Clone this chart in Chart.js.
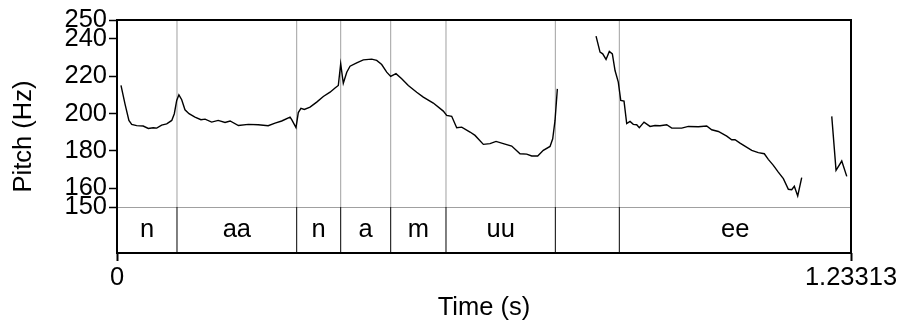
<!DOCTYPE html>
<html>
<head>
<meta charset="utf-8">
<script src="https://cdn.jsdelivr.net/npm/chart.js@4/dist/chart.umd.min.js"></script>
<style>
  html, body { margin: 0; padding: 0; background: #fff; }
  #wrap { width: 900px; height: 324px; }
</style>
</head>
<body>
<div id="wrap"><canvas id="pitchChart" width="900" height="324"></canvas></div>
<script>
// pitch track, null = unvoiced gap
const pitchTimes = [
  0.0067, 0.0134, 0.020, 0.0247, 0.033, 0.044, 0.0526, 0.061, 0.0667, 0.075,
  0.0835, 0.092, 0.0963, 0.1003, 0.104, 0.1087, 0.1142, 0.121, 0.131, 0.141,
  0.148, 0.159, 0.170, 0.1815, 0.190, 0.204, 0.2206, 0.2374, 0.254, 0.2655,
  0.2767, 0.2907, 0.2935, 0.3007, 0.3046, 0.309, 0.3147, 0.3243, 0.3355, 0.3466,
  0.3579, 0.3663, 0.3718, 0.3758, 0.3802, 0.386, 0.3915, 0.4027, 0.4138, 0.4279,
  0.4363, 0.4447, 0.4531, 0.4598, 0.4687, 0.4783, 0.4894, 0.5035, 0.5146, 0.5314,
  0.5482, 0.5539, 0.5623, 0.5707, 0.5791, 0.5931, 0.6015, 0.6155, 0.6267, 0.6368,
  0.649, 0.6631, 0.6771, 0.6883, 0.6967, 0.7068, 0.7162, 0.7275, 0.732, 0.7359,
  0.7398,
  0.77,
  0.8048, 0.8115, 0.816, 0.8216, 0.8271, 0.8322, 0.8367, 0.8422, 0.8463, 0.8518,
  0.8563, 0.8619, 0.8674, 0.8731, 0.8775, 0.8854, 0.8955, 0.9039, 0.9123, 0.9235,
  0.932, 0.9487, 0.9599, 0.9767, 0.9907, 0.9991, 1.0103, 1.0244, 1.0327, 1.0383,
  1.0467, 1.0664, 1.0774, 1.0875, 1.0942, 1.1027, 1.111, 1.1195, 1.1279, 1.1335,
  1.1379, 1.1436, 1.1503,
  1.18,
  1.2008, 1.2080, 1.2176, 1.2260
];
const pitchHz = [
  215, 205.2, 196.3, 194.2, 193.5, 193.3, 192.0, 192.4, 192.2, 193.8,
  194.5, 196.3, 199.9, 207, 210, 207.4, 202, 199.9, 198.1, 196.7,
  197, 195.4, 196.3, 195.2, 196, 193.6, 194.2, 194, 193.5, 194.9,
  196, 198.1, 196.7, 192.5, 200.5, 202.8, 202.2, 203.4, 206.1, 209.1,
  211.4, 213.6, 215, 226.6, 216.2, 222.1, 225.3, 227.1, 228.7, 229.1,
  228.4, 226.2, 222.1, 219.8, 221.3, 218.6, 215, 211.4, 208.8, 205.6,
  201.3, 199, 198.5, 192.4, 192.7, 190.1, 188.3, 183.5, 183.9, 185.1,
  183.9, 182.6, 178.5, 178.3, 177.3, 177.3, 180.3, 182.4, 186.5, 196.3,
  213.2,
  null,
  241.4, 232.8, 231.9, 228.9, 233.2, 231.9, 223, 216.8, 207, 206.6,
  194.6, 195.8, 194.2, 194, 192.4, 195.4, 193.1, 193.6, 193.5, 194,
  192.2, 192.2, 193.1, 192.9, 193.3, 191.3, 190.4, 187.9, 186, 186,
  184.2, 180.3, 179.1, 178.5, 175.5, 172.3, 168.7, 165.2, 159.5, 159.3,
  161.1, 155.9, 165.7,
  null,
  198.5, 169.6, 174.6, 166.4
];

// text grid tier
const tierBounds = [0.1008, 0.3019, 0.3758, 0.4598, 0.5527, 0.7364, 0.8439];
const tierLabels = ['n', 'aa', 'n', 'a', 'm', 'uu', '', 'ee'];

const xMin = 0;
const xMax = 1.23313;
const xTickLabels = ['0', '1.23313'];
const yTicks = [150, 160, 180, 200, 220, 240, 250];
const pitchFloor = 150;
const pitchCeil = 250;
const yMin = 125.43; // bottom of tier strip in Hz units

const FONT = { family: "'Liberation Sans', Arial, sans-serif", size: 25.5 };

function boundLine(lo, hi) {
  let pts = [];
  tierBounds.forEach(b => {
    pts.push({x: b, y: lo}, {x: b, y: hi}, {x: b, y: null});
  });
  return pts;
}

const pitchData = pitchTimes.map((t, i) => ({x: t, y: pitchHz[i]}));

const tierPlugin = {
  id: 'tierText',
  afterDatasetsDraw(chart) {
    const {ctx, chartArea, scales} = chart;
    const edges = [xMin].concat(tierBounds, [xMax]);
    const yc = (scales.y.getPixelForValue(pitchFloor) + scales.y.getPixelForValue(yMin)) / 2;
    ctx.save();
    ctx.fillStyle = '#000';
    ctx.font = FONT.size + 'px ' + FONT.family;
    ctx.textAlign = 'center';
    ctx.textBaseline = 'middle';
    tierLabels.forEach((lab, i) => {
      const xc = (scales.x.getPixelForValue(edges[i]) + scales.x.getPixelForValue(edges[i + 1])) / 2;
      ctx.fillText(lab, xc, yc);
    });
    // frame
    ctx.strokeStyle = '#000';
    ctx.lineWidth = 2;
    ctx.strokeRect(chartArea.left, chartArea.top, chartArea.right - chartArea.left, chartArea.bottom - chartArea.top);
    ctx.restore();
  }
};

new Chart(document.getElementById('pitchChart'), {
  type: 'line',
  data: {
    datasets: [
      {
        data: pitchData,
        borderColor: '#000',
        borderWidth: 1.4,
        pointRadius: 0,
        spanGaps: false,
        tension: 0
      },
      {
        data: boundLine(pitchFloor, pitchCeil),
        borderColor: '#a0a0a0',
        borderWidth: 1,
        pointRadius: 0,
        spanGaps: false
      },
      {
        data: boundLine(yMin, pitchFloor),
        borderColor: '#000',
        borderWidth: 1,
        pointRadius: 0,
        spanGaps: false
      }
    ]
  },
  options: {
    responsive: false,
    animation: false,
    layout: { padding: { top: 20, right: 49, left: 0, bottom: 0 } },
    plugins: { legend: { display: false }, tooltip: { enabled: false } },
    scales: {
      x: {
        type: 'linear',
        min: xMin,
        max: xMax,
        afterBuildTicks: s => { s.ticks = [{value: xMin}, {value: xMax}]; },
        afterFit: s => { s.height = 71; },
        ticks: {
          autoSkip: false,
          maxRotation: 0,
          minRotation: 0,
          padding: 2,
          color: '#000',
          font: FONT,
          callback: (v, i) => xTickLabels[i]
        },
        grid: { drawOnChartArea: false, tickLength: 8, tickColor: '#000', tickWidth: 2 },
        border: { display: false },
        title: { display: true, text: 'Time (s)', color: '#000', font: FONT, padding: { top: 0, bottom: 1 } }
      },
      y: {
        type: 'linear',
        min: yMin,
        max: pitchCeil,
        afterBuildTicks: s => { s.ticks = yTicks.map(v => ({value: v})); },
        afterFit: s => { s.width = 117; },
        ticks: {
          autoSkip: false,
          padding: 2,
          color: '#000',
          font: FONT,
          callback: v => String(v)
        },
        grid: {
          drawOnChartArea: true,
          color: c => (c.tick && c.tick.value === pitchFloor) ? '#a0a0a0' : 'rgba(0,0,0,0)',
          tickColor: '#000',
          tickLength: 8,
          tickWidth: 1.5
        },
        border: { display: false },
        title: { display: true, text: 'Pitch (Hz)', color: '#000', font: FONT, padding: { top: 9, bottom: 0 } }
      }
    }
  },
  plugins: [tierPlugin]
});
</script>
</body>
</html>
